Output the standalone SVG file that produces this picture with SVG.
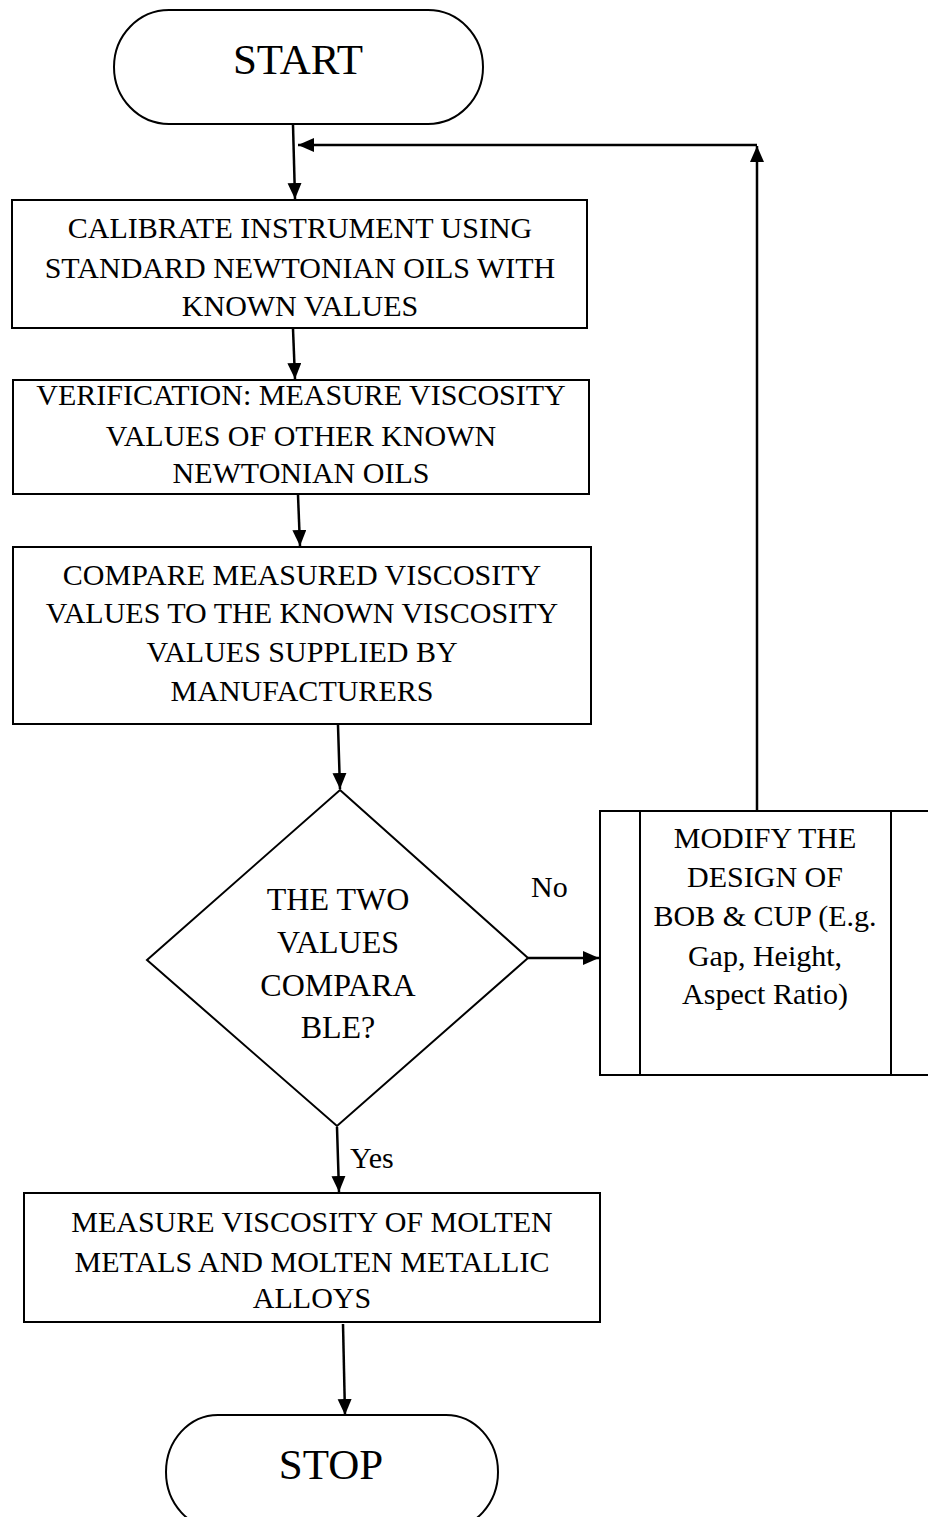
<svg xmlns="http://www.w3.org/2000/svg" width="928" height="1517" viewBox="0 0 928 1517">
<style>
.s{fill:#fff;stroke:#000;stroke-width:2}
.l{fill:none;stroke:#000;stroke-width:2}
.c{fill:none;stroke:#000;stroke-width:2.5;marker-end:url(#ah)}
text{font-family:"Liberation Serif","Times New Roman",serif;fill:#000;text-anchor:middle;font-size:30px}
.big{font-size:43px}
.dia{font-size:32px}
.lab{text-anchor:start}
</style>
<defs>
<marker id="ah" markerUnits="userSpaceOnUse" markerWidth="17" markerHeight="15" refX="16" refY="7" orient="auto">
<path d="M0,0 L16,7 L0,14 z" fill="#000"/>
</marker>
</defs>
<rect width="928" height="1517" fill="#fff"/>
<g id="connectors">
<line class="c" x1="293" y1="125" x2="295" y2="199"/>
<line class="c" x1="293" y1="329" x2="295" y2="379"/>
<line class="c" x1="298" y1="495" x2="300" y2="546"/>
<line class="c" x1="338" y1="725" x2="340" y2="789"/>
<line class="c" x1="528" y1="958" x2="599" y2="958"/>
<line class="c" x1="337" y1="1127" x2="339" y2="1192"/>
<line class="c" x1="343" y1="1324" x2="345" y2="1415"/>
<line class="c" x1="757" y1="811" x2="757" y2="146"/>
<line class="c" x1="757" y1="145" x2="298" y2="145"/>
<text class="lab" x="531" y="897">No</text>
<text class="lab" x="350" y="1168">Yes</text>
</g>
<g id="start">
<rect class="s" x="114" y="10" width="369" height="114" rx="55" ry="57"/>
<text class="big" x="298" y="74">START</text>
</g>
<g id="calibrate">
<rect class="s" x="12" y="200" width="575" height="128"/>
<text x="300" y="238">CALIBRATE INSTRUMENT USING</text>
<text x="300" y="278">STANDARD NEWTONIAN OILS WITH</text>
<text x="300" y="316">KNOWN VALUES</text>
</g>
<g id="verify">
<rect class="s" x="13" y="380" width="576" height="114"/>
<text x="301" y="405">VERIFICATION: MEASURE VISCOSITY</text>
<text x="301" y="446">VALUES OF OTHER KNOWN</text>
<text x="301" y="483">NEWTONIAN OILS</text>
</g>
<g id="compare">
<rect class="s" x="13" y="547" width="578" height="177"/>
<text x="302" y="585">COMPARE MEASURED VISCOSITY</text>
<text x="302" y="623">VALUES TO THE KNOWN VISCOSITY</text>
<text x="302" y="662">VALUES SUPPLIED BY</text>
<text x="302" y="701">MANUFACTURERS</text>
</g>
<g id="decision">
<polygon class="s" points="340,790 528,958 337,1126 147,960"/>
<text class="dia" x="338" y="910">THE TWO</text>
<text class="dia" x="338" y="953">VALUES</text>
<text class="dia" x="338" y="996">COMPARA</text>
<text class="dia" x="338" y="1038">BLE?</text>
</g>
<g id="modify">
<rect class="s" x="600" y="811" width="340" height="264"/>
<line class="l" x1="640" y1="811" x2="640" y2="1075"/>
<line class="l" x1="891" y1="811" x2="891" y2="1075"/>
<text x="765" y="848">MODIFY THE</text>
<text x="765" y="887">DESIGN OF</text>
<text x="765" y="926">BOB &amp; CUP (E.g.</text>
<text x="765" y="966">Gap, Height,</text>
<text x="765" y="1004">Aspect Ratio)</text>
</g>
<g id="measure">
<rect class="s" x="24" y="1193" width="576" height="129"/>
<text x="312" y="1232">MEASURE VISCOSITY OF MOLTEN</text>
<text x="312" y="1272">METALS AND MOLTEN METALLIC</text>
<text x="312" y="1308">ALLOYS</text>
</g>
<g id="stop">
<rect class="s" x="166" y="1415" width="332" height="114" rx="52" ry="57"/>
<text class="big" x="331" y="1479">STOP</text>
</g>
</svg>
